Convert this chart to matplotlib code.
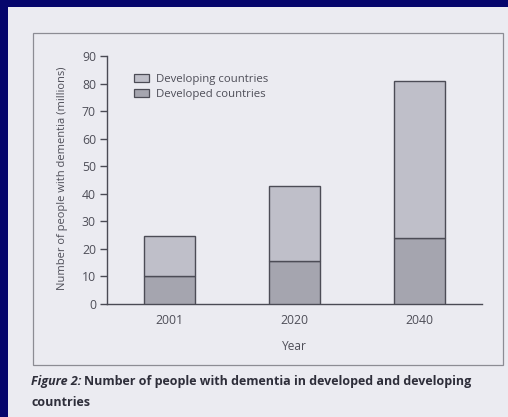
import matplotlib
matplotlib.use("Agg")
import matplotlib.pyplot as plt
from matplotlib.patches import Rectangle, Patch

# ---- data ----
years = ["2001", "2020", "2040"]
developed = [10.0, 15.5, 23.9]
developing = [14.7, 27.4, 57.1]
yticks = [0, 10, 20, 30, 40, 50, 60, 70, 80, 90]
series_names = ["Developing countries", "Developed countries"]

W, H = 508, 417
fig = plt.figure(figsize=(W / 100, H / 100), dpi=100)
fig.patch.set_facecolor("#06066c")

FONT = "Open Sans"
TXT = "#4e4e58"

def px(x0, y0, w, h):
    return [x0 / W, 1 - (y0 + h) / H, w / W, h / H]

# page
fig.patches.append(Rectangle((8 / W, 0), 1 - 8 / W, 1 - 7 / H, transform=fig.transFigure,
                             facecolor="#ebebf1", edgecolor="none", zorder=-3))
# frame
fig.patches.append(Rectangle((33 / W, 1 - 365 / H), (503 - 33) / W, (365 - 33) / H,
                             transform=fig.transFigure, facecolor="none",
                             edgecolor="#8c8c94", lw=0.9, zorder=-2))

ax = fig.add_axes(px(107, 56, 482 - 107, 304 - 56))
ax.set_facecolor("none")
ax.set_zorder(1)

x = list(range(len(years)))
c_dev = "#a5a5af"
c_ing = "#bfbfc9"
edge = "#4c4c56"
ax.bar(x, developed, width=0.41, color=c_dev, edgecolor=edge, lw=1.0, zorder=3)
ax.bar(x, developing, width=0.41, bottom=developed, color=c_ing, edgecolor=edge, lw=1.0, zorder=3)

ax.set_xlim(-0.5, 2.5)
ax.set_ylim(0, 90)
ax.set_yticks(yticks)
ax.set_xticks(x)
ax.set_xticklabels(years)
for s in ["top", "right"]:
    ax.spines[s].set_visible(False)
for s in ["left", "bottom"]:
    ax.spines[s].set_color("#4a4a54")
    ax.spines[s].set_linewidth(1.0)
ax.tick_params(axis="y", direction="out", length=5, width=1.0, color="#4a4a54",
               labelsize=8.8, labelcolor=TXT, pad=3)
ax.tick_params(axis="x", length=0, labelsize=8.8, labelcolor=TXT, pad=7)
for lab in ax.get_xticklabels() + ax.get_yticklabels():
    lab.set_fontfamily(FONT)

fig.text(62 / W, 1 - 178 / H, "Number of people with dementia (millions)", rotation=90,
         ha="center", va="center", fontsize=8.0, color=TXT, family=FONT)
fig.text(294 / W, 1 - 346 / H, "Year", ha="center", va="center", fontsize=8.6,
         color=TXT, family=FONT)

handles = [Patch(facecolor=c_ing, edgecolor=edge, lw=0.9),
           Patch(facecolor=c_dev, edgecolor=edge, lw=0.9)]
leg = ax.legend(handles, series_names, loc="upper left",
                bbox_to_anchor=(124 / W, 1 - 64 / H), bbox_transform=fig.transFigure,
                frameon=False, handlelength=1.3, handleheight=0.65, handletextpad=0.6,
                labelspacing=0.35, prop={"family": FONT, "size": 8.2})
for t in leg.get_texts():
    t.set_color(TXT)

# caption
cap_col = "#2e2e3a"
CAP_FS = 9.0
t1 = fig.text(31 / W, 1 - 382 / H, "Figure 2:", ha="left", va="center", fontsize=CAP_FS,
              style="italic", weight="bold", color=cap_col, family=FONT)
fig.canvas.draw()
r = fig.canvas.get_renderer()
bb = t1.get_window_extent(r)
fig.text((bb.x1 + 3) / W, 1 - 382 / H, "Number of people with dementia in developed and developing",
         ha="left", va="center", fontsize=CAP_FS, weight="bold", color=cap_col, family=FONT)
fig.text(31 / W, 1 - 403 / H, "countries", ha="left", va="center", fontsize=CAP_FS,
         weight="bold", color=cap_col, family=FONT)

fig.savefig("out.png", dpi=100, facecolor=fig.get_facecolor())
